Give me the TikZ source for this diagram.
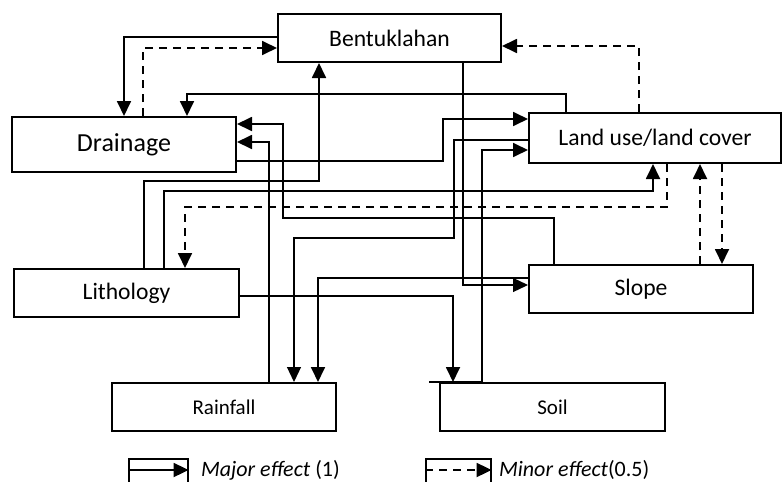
\documentclass[tikz,border=0pt]{standalone}
\usepackage{fontspec}
\setmainfont{Carlito}
\usetikzlibrary{arrows.meta}

\begin{document}
\begin{tikzpicture}[x=0.5pt,y=-0.5pt,>={Triangle[length=7.5pt,width=7pt]},
  major/.style={->,line width=0.9pt},
  slim/.style={->,line width=0.6pt},
  minor/.style={->,line width=0.9pt,dash pattern=on 4pt off 3pt}]
\tikzstyle{box}=[draw,line width=1pt,rectangle,inner sep=0pt,minimum width=112pt,minimum height=24pt,font=\fontsize{11.8}{14}\selectfont]
\tikzstyle{keybox}=[draw,line width=0.6pt,rectangle,inner sep=0pt,minimum height=16pt]

\useasboundingbox (0,0) rectangle (782,482);

\node[box,minimum width=111.5pt] (bent) at (389.5,38) {Bentuklahan};
\node[box,minimum height=27.5pt,font=\fontsize{13}{15}\selectfont] (drain) at (124,144.5) {Drainage};
\node[box,minimum width=126pt,minimum height=25pt] (land) at (655,138) {Land use/land cover};
\node[box,minimum width=112.5pt] (lith) at (126.5,293) {Lithology};
\node[box] (slope) at (641,289) {Slope};
\node[box,font=\fontsize{10.5}{12}\selectfont] (rain) at (224,407) {Rainfall};
\node[box,minimum width=112.5pt,font=\fontsize{10.5}{12}\selectfont] (soil) at (552.5,407) {Soil};

% Bentuklahan <-> Drainage
\draw[major] (bent.west |- 0,37) -| (124,0 |- drain.north);
\draw[minor] (143,0 |- drain.north) |- (bent.west |- 0,48);
% Land use <-> Drainage, Bentuklahan
\draw[major] (566,0 |- land.north) |- (187,94) -- (187,0 |- drain.north);
\draw[minor] (639,0 |- land.north) |- (bent.east |- 0,46);
\draw[major] (drain.east |- 0,161) -| (443,119) -- (land.west |- 0,119);
% from Lithology
\draw[major] (144,0 |- lith.north) |- (319,181) -- (319,0 |- bent.south);
\draw[major] (164,0 |- lith.north) |- (653,191) -- (653,0 |- land.south);
\draw[minor] (667,0 |- land.south) |- (185,207) -- (185,0 |- lith.north);
\draw[major] (lith.east |- 0,296) -| (453,0 |- soil.north);
% into Drainage
\draw[major] (554,0 |- slope.north) |- (283,218) |- (drain.east |- 0,124);
\draw[major] (269,0 |- rain.north) |- (drain.east |- 0,142);
% into Rainfall
\draw[slim] (land.west |- 0,140) -| (454,238) -| (294,0 |- rain.north);
\draw[major] (slope.west |- 0,278) -| (318,0 |- rain.north);
% Soil, Slope
\draw[major] ([xshift=-5pt]soil.north west) -- (482,0 |- soil.north) |- (land.west |- 0,150);
\draw[slim] (463,0 |- bent.south) |- (slope.west |- 0,285);
\draw[minor] (700,0 |- slope.north) -- (700,0 |- land.south);
\draw[minor] (722,0 |- land.south) -- (722,0 |- slope.north);

% legend
\node[keybox,minimum width=29.5pt] (majorkey) at (158.5,475) {};
\draw[major] (majorkey.west |- 0,470) -- (majorkey.east |- 0,470);
\node[anchor=west,font=\fontsize{11}{13}\selectfont] (majortext) at (194,470) {\textit{Major effect} (1)};
\node[keybox,minimum width=32.5pt] (minorkey) at (458.5,475) {};
\draw[minor] (minorkey.west |- 0,470) -- (minorkey.east |- 0,470);
\node[anchor=west,font=\fontsize{11}{13}\selectfont] (minortext) at (492,470) {\textit{Minor effect}(0.5)};
\end{tikzpicture}
\end{document}
